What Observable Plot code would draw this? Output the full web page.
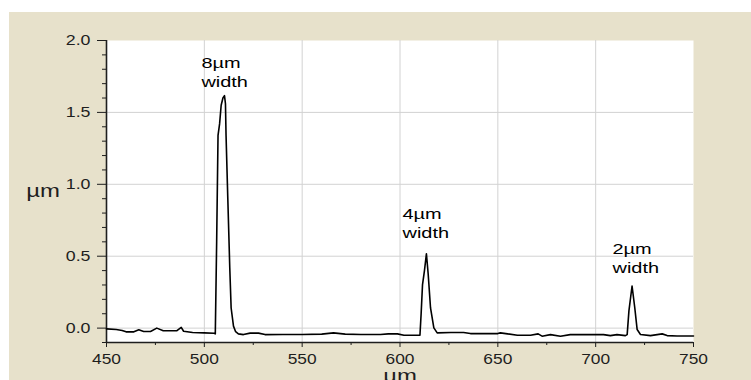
<!DOCTYPE html>
<html><head><meta charset="utf-8">
<script src="https://cdn.jsdelivr.net/npm/d3@7"></script>
<script src="https://cdn.jsdelivr.net/npm/@observablehq/plot@0.6"></script>
<style>
html,body{margin:0;padding:0;background:#fff;}
#wrap{position:absolute;left:9px;top:12px;width:742px;height:368px;background:#e7e1cb;overflow:hidden}
</style></head><body><div id="wrap"></div>
<script>
const waveX = [450,455,458,460,464,466.5,469,472.5,475.7,479,486,488.2,489.4,494,500,505,505.6,506.3,507,507.8,508.6,509.5,510.3,510.8,511.1,512,513,513.7,514.9,516,517.4,520,523.4,527.7,531,540,550,560,566,572,580,590,594,598.7,602,609,610.2,610.8,611.5,612.5,613.5,614.4,615.6,617.3,619,626,632.5,636,645,650,651.3,655,660,666.7,670.6,672.6,676.9,682,687,695,704,707.5,710.9,715.2,716.1,717,718.6,720,721.2,722.9,728,734,736.5,741.6,750];
const waveY = [-0.005,-0.01,-0.016,-0.026,-0.026,-0.012,-0.023,-0.023,0.0,-0.018,-0.018,0.005,-0.022,-0.03,-0.033,-0.036,-0.04,0.6,1.34,1.42,1.55,1.6,1.617,1.56,1.34,0.9,0.42,0.14,0.014,-0.025,-0.04,-0.045,-0.035,-0.035,-0.045,-0.044,-0.044,-0.042,-0.033,-0.042,-0.044,-0.044,-0.04,-0.04,-0.05,-0.05,-0.05,0.1,0.30,0.40,0.517,0.376,0.14,0.002,-0.033,-0.03,-0.03,-0.038,-0.038,-0.038,-0.033,-0.04,-0.05,-0.05,-0.04,-0.056,-0.045,-0.056,-0.045,-0.045,-0.045,-0.052,-0.045,-0.052,-0.045,0.12,0.293,0.14,-0.01,-0.044,-0.052,-0.04,-0.052,-0.055,-0.055];
const labelText = ["8µm\nwidth","4µm\nwidth","2µm\nwidth"];
const labelX = [498.5, 601.3, 708.6];
const labelY = [1.90, 0.852, 0.606];
const xMajorTicks = [450,500,550,600,650,700,750];
const xMinorTicks = [475,525,575,625,675,725];
const yMajorTicks = [0,0.5,1.0,1.5,2.0];
const yMinorTicks = [-0.1,0.1,0.2,0.3,0.4,0.6,0.7,0.8,0.9,1.1,1.2,1.3,1.4,1.6,1.7,1.8,1.9];
const xGrid = [500,550,600,650,700];
const yGrid = [0,0.5,1.0,1.5];
const xDomain = [450,750];
const yDomain = [-0.1,2.0];
const xTitle = "µm";
const yTitle = "µm";

const wave = waveX.map((x,i)=>({x, y: waveY[i]}));
const labels = labelText.map((t,i)=>({t, x: labelX[i], y: labelY[i]}));
const ink = "#1e1e1e";

const chart = Plot.plot({
  width:742, height:368, marginTop:28, marginLeft:97, marginRight:58, marginBottom:38,
  style:{background:"transparent", fontFamily:"'Liberation Sans', Arial, sans-serif", color:ink, overflow:"visible"},
  x:{domain:xDomain}, y:{domain:yDomain},
  marks:[
    Plot.frame({fill:"white", stroke:"none"}),
    Plot.gridX(xGrid,{stroke:"#d2d2d2", strokeOpacity:1}),
    Plot.gridY(yGrid,{stroke:"#d2d2d2", strokeOpacity:1}),
    Plot.axisX({ticks:xMajorTicks, tickSize:5, tickPadding:7, fontSize:14, label:null, tickFormat:d=>String(d), stroke:ink, fill:ink}),
    Plot.axisX({ticks:xMinorTicks, tickSize:3, text:null, label:null, stroke:ink}),
    Plot.axisY({ticks:yMajorTicks, tickSize:9, tickPadding:7, fontSize:14, label:null, tickFormat:d3.format(".1f"), stroke:ink, fill:ink}),
    Plot.axisY({ticks:yMinorTicks, tickSize:4, text:null, label:null, stroke:ink}),
    Plot.ruleX([xDomain[0]],{stroke:ink, strokeWidth:1.6}),
    Plot.ruleY([yDomain[0]],{stroke:ink, strokeWidth:1.6}),
    Plot.line(wave,{x:"x", y:"y", stroke:"black", strokeWidth:1.6}),
    Plot.text(labels,{x:"x", y:"y", text:"t", textAnchor:"start", lineAnchor:"top", lineHeight:1.25, fontSize:15, fill:"black"}),
    Plot.text([yTitle],{frameAnchor:"left", dx:-63.5, textAnchor:"middle", lineAnchor:"middle", text:d=>d, fontSize:18, fill:ink, ariaLabel:"axis title"}),
    Plot.text([xTitle],{frameAnchor:"bottom", dy:27, textAnchor:"middle", lineAnchor:"top", text:d=>d, fontSize:18, fill:ink, ariaLabel:"axis title"})
  ]
});

// the reference's lettering is horizontally stretched: scale each text about its own anchor
const stretch = {"x-axis tick label":1.24, "y-axis tick label":1.27, "text":1.33, "axis title":1.22};
chart.querySelectorAll("g[aria-label]").forEach(g=>{
  const s = stretch[g.getAttribute("aria-label")];
  if (!s) return;
  g.querySelectorAll(":scope > text").forEach(t=>{
    const tr = t.getAttribute("transform");
    if (tr) t.setAttribute("transform", `${tr} scale(${s},1)`);
  });
});
document.getElementById("wrap").appendChild(chart);
</script></body></html>
